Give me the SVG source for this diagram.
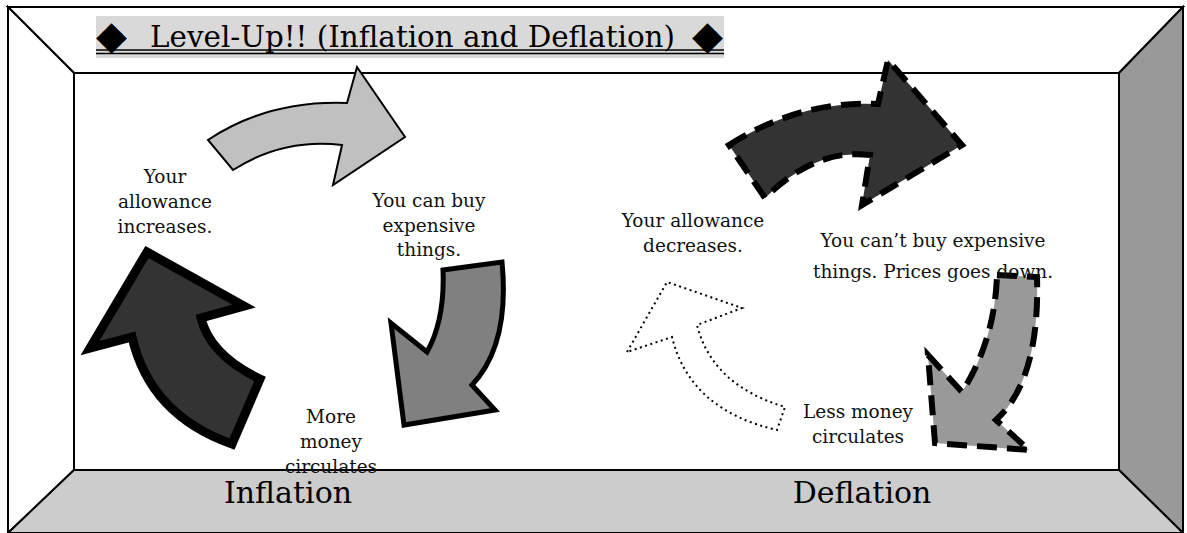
<svg xmlns="http://www.w3.org/2000/svg" width="1187" height="533" viewBox="0 0 1187 533">
<style>
.frame{stroke:#000;stroke-width:2;stroke-linejoin:miter}
.t{font-family:"DejaVu Serif","Liberation Serif",serif;font-size:18.5px;fill:#111;text-anchor:middle}
.big{font-family:"DejaVu Serif","Liberation Serif",serif;font-size:30px;fill:#000;text-anchor:middle}
.title{font-family:"DejaVu Serif","Liberation Serif",serif;font-size:29px;fill:#000}
.dia{font-family:"DejaVu Sans","Noto Sans",sans-serif;font-size:40px;fill:#000}
.dash{stroke:#000;stroke-width:6;stroke-dasharray:20 10;stroke-linejoin:miter}
</style>
<rect width="1187" height="533" fill="#fff"/>
<g id="room">
<polygon class="frame" points="8,7 1183,7 1119,73 74,73" fill="#fff"/>
<polygon class="frame" points="8,7 74,73 74,470 8,533" fill="#fff"/>
<polygon class="frame" points="1183,7 1183,533 1119,470 1119,73" fill="#999"/>
<polygon class="frame" points="8,533 74,470 1119,470 1183,533" fill="#ccc"/>
<rect x="74" y="73" width="1045" height="397" fill="#fff" stroke="#000" stroke-width="2"/>
</g>
<g id="title">
<rect x="96" y="16" width="628" height="42" fill="#d9d9d9"/>
<text class="dia" x="96" y="49" textLength="31" lengthAdjust="spacingAndGlyphs">◆</text>
<text class="title" x="150" y="47" textLength="525" lengthAdjust="spacingAndGlyphs">Level-Up!! (Inflation and Deflation)</text>
<text class="dia" x="692" y="49" textLength="31" lengthAdjust="spacingAndGlyphs">◆</text>
<line x1="96" y1="50" x2="724" y2="50" stroke="#000" stroke-width="1.5"/>
<line x1="96" y1="53.5" x2="724" y2="53.5" stroke="#000" stroke-width="1.5"/>
</g>
<g id="connectors">
<path id="inf-top" d="M208,140 Q268,100 347,103 L357,67 L405,137 L333,185 L342,145 Q283,138 233,170 Z" fill="#c0c0c0" stroke="#000" stroke-width="2"/>
<path id="inf-right" d="M443,270 L502,262 Q510,345 472,385 L495,410 L404,425 L391,323 L427,352 Q445,320 443,270 Z" fill="#808080" stroke="#000" stroke-width="5"/>
<path id="inf-left" d="M147,252 L244,306 L201,318 Q210,355 260,379 L232,444 Q150,415 132,337 L90,348 Z" fill="#333" stroke="#000" stroke-width="9" stroke-miterlimit="10"/>
<path id="def-top" class="dash" d="M729,145 Q800,100 878,104 L888,60 L962,145 L862,205 L870,155 Q815,148 765,198 Z" fill="#333"/>
<path id="def-right" class="dash" d="M997,275 L1037,277 Q1040,380 996,420 L1029,450 L935,443 L928,355 L962,392 Q995,340 997,275 Z" fill="#999"/>
<path id="def-left" d="M627,352 L667,282 L742,308 L697,325 Q712,385 785,407 L777,430 Q690,410 672,337 Z" fill="#fff" stroke="#000" stroke-width="2" stroke-dasharray="2 3.5"/>
</g>
<g id="inf-allowance"><text class="t" x="165" y="183">Your</text><text class="t" x="165" y="208">allowance</text><text class="t" x="165" y="233">increases.</text></g>
<g id="inf-buy"><text class="t" x="429" y="207">You can buy</text><text class="t" x="429" y="232">expensive</text><text class="t" x="429" y="256">things.</text></g>
<g id="inf-money"><text class="t" x="331" y="423">More</text><text class="t" x="331" y="448">money</text><text class="t" x="331" y="473">circulates</text></g>
<g id="def-allowance"><text class="t" x="693" y="227">Your allowance</text><text class="t" x="693" y="252">decreases.</text></g>
<g id="def-buy"><text class="t" x="933" y="247">You can’t buy expensive</text><text class="t" x="933" y="278">things. Prices goes down.</text></g>
<g id="def-money"><text class="t" x="858" y="418">Less money</text><text class="t" x="858" y="443">circulates</text></g>
<g id="labels"><text class="big" x="288" y="503">Inflation</text><text class="big" x="862" y="503">Deflation</text></g>
</svg>
